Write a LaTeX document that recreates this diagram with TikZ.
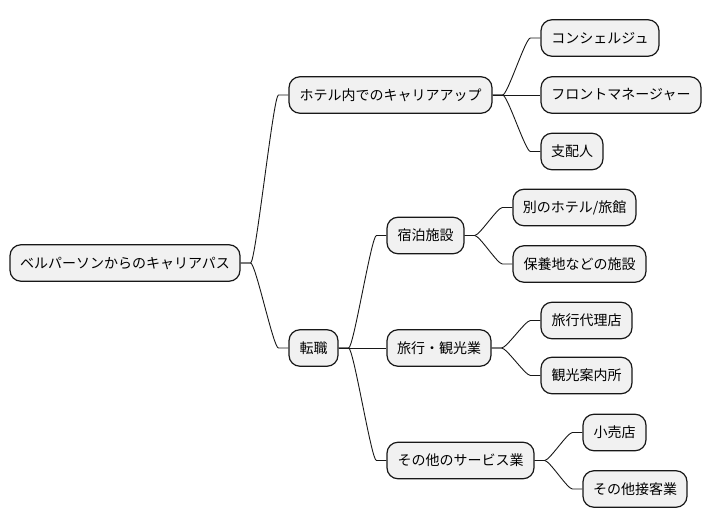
\documentclass[tikz,border=0pt]{standalone}
\usepackage{fontspec}
\newfontfamily\jpfont{Noto Sans CJK JP}
\usetikzlibrary{calc}
\definecolor{boxfill}{HTML}{F1F1F1}
\definecolor{boxline}{HTML}{181818}
\tikzset{
  mmbox/.style={draw=boxline, fill=boxfill, line width=1.2pt, rounded corners=11pt,
    minimum height=36.5pt, inner sep=0pt, align=center,
    font=\jpfont\fontsize{14}{16}\selectfont, text=black},
  mmline/.style={draw=boxline, line width=0.9pt}
}
\newcommand\mmlink[2]{%
  \draw[mmline] (#1.east) -- ++(10,0) .. controls +(5,0) and +(-5,0) .. ($(#2.west)+(-10,0)$) -- (#2.west);}
\begin{document}
\begin{tikzpicture}[x=1pt,y=-1pt]
\useasboundingbox (0,0) rectangle (712,527);
\node[mmbox, minimum width=230pt] (root) at (125,263) {ベルパーソンからのキャリアパス};
\node[mmbox, minimum width=203pt] (hotel) at (390.5,95) {ホテル内でのキャリアアップ};
\node[mmbox, minimum width=49pt] (tenshoku) at (313.5,348) {転職};
\node[mmbox, minimum width=118pt] (concierge) at (600,38) {コンシェルジュ};
\node[mmbox, minimum width=160pt] (front) at (621,95) {フロントマネージャー};
\node[mmbox, minimum width=62pt] (manager) at (572,151.5) {支配人};
\node[mmbox, minimum width=77pt] (shukuhaku) at (425.5,235.5) {宿泊施設};
\node[mmbox, minimum width=123pt] (betsu) at (574.5,207.5) {別のホテル/旅館};
\node[mmbox, minimum width=133pt] (hoyo) at (579.5,264) {保養地などの施設};
\node[mmbox, minimum width=104pt] (ryoko) at (439,348) {旅行・観光業};
\node[mmbox, minimum width=91pt] (dairi) at (586.5,320.5) {旅行代理店};
\node[mmbox, minimum width=91pt] (annai) at (586.5,375.5) {観光案内所};
\node[mmbox, minimum width=147pt] (service) at (460.5,460.5) {その他のサービス業};
\node[mmbox, minimum width=63pt] (kouri) at (614.5,432.5) {小売店};
\node[mmbox, minimum width=104pt] (sekkyaku) at (635,489) {その他接客業};
\mmlink{root}{hotel}
\mmlink{root}{tenshoku}
\mmlink{hotel}{concierge}
\draw[mmline] (hotel.east) -- (front.west);
\mmlink{hotel}{manager}
\mmlink{tenshoku}{shukuhaku}
\draw[mmline] (tenshoku.east) -- (ryoko.west);
\mmlink{tenshoku}{service}
\mmlink{shukuhaku}{betsu}
\mmlink{shukuhaku}{hoyo}
\mmlink{ryoko}{dairi}
\mmlink{ryoko}{annai}
\mmlink{service}{kouri}
\mmlink{service}{sekkyaku}
\end{tikzpicture}
\end{document}
